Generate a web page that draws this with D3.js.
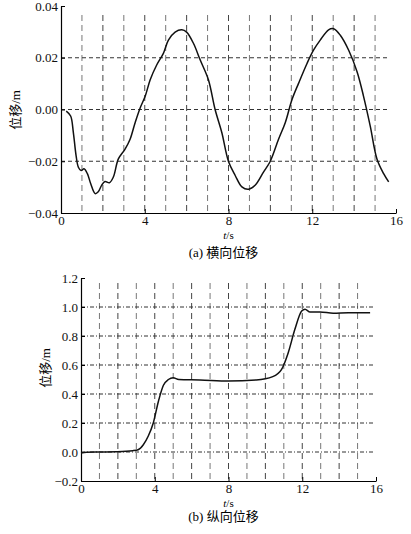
<!DOCTYPE html>
<html>
<head>
<meta charset="utf-8">
<script src="https://cdn.jsdelivr.net/npm/d3@7/dist/d3.min.js"></script>
<style>
  body { margin: 0; background: #fff; }
  text { font-family: "Liberation Serif", "Times New Roman", serif; }
  .cjk { font-family: "Liberation Serif", "Noto Sans CJK SC", serif; }
</style>
</head>
<body>
<div id="chart"></div>
<script>
// (a) lateral displacement, t in s, value in m
let timeA = [0.25, 0.46, 0.59, 0.72, 0.83, 0.96, 1.1, 1.26, 1.42, 1.63, 1.78, 1.94, 2.1, 2.31, 2.5, 2.74, 3.06, 3.3, 3.54, 3.78,
    4.02, 4.26, 4.57, 4.89, 5.13, 5.45, 5.77, 6.0, 6.33, 6.65, 7.04, 7.36, 7.68, 8.0, 8.32, 8.64, 8.96, 9.27, 9.67, 9.99,
    10.39, 10.71, 11.03, 11.35, 11.75, 12.06, 12.38, 12.78, 13.02, 13.34, 13.74, 14.14, 14.45, 14.77, 15.09, 15.41, 15.65]
let dispA = [-0.0006, -0.0025, -0.0089, -0.0178, -0.0223, -0.0236, -0.0229, -0.0248, -0.0287, -0.0325, -0.0318, -0.0293, -0.0278, -0.0283, -0.0261, -0.0191, -0.0153, -0.0115, -0.0051, 0.0006,
    0.0051, 0.0115, 0.0172, 0.0217, 0.0268, 0.0299, 0.0308, 0.0299, 0.0255, 0.0191, 0.0115, 0.0, -0.0089, -0.0201, -0.0255, -0.0299, -0.0308, -0.0293, -0.0242, -0.0201,
    -0.0115, -0.0051, 0.0038, 0.0102, 0.0178, 0.0229, 0.0268, 0.0308, 0.0312, 0.0287, 0.0229, 0.0146, 0.0051, -0.0064, -0.0191, -0.0248, -0.028]

// (b) longitudinal displacement
let timeB = [0.0, 0.3, 1.0, 1.9, 2.8, 3.1, 3.38, 3.65, 3.92, 4.2, 4.47, 4.74, 5.0, 5.3, 6.45, 8.0, 9.5, 10.4, 10.88, 11.24,
    11.6, 11.97, 12.15, 12.42, 12.96, 13.68, 14.5, 15.68]
let dispB = [-0.007, -0.002, 0.0, 0.002, 0.009, 0.016, 0.05, 0.11, 0.2, 0.35, 0.46, 0.5, 0.512, 0.5, 0.497, 0.49, 0.497, 0.52, 0.57, 0.685,
    0.846, 0.973, 0.985, 0.966, 0.966, 0.957, 0.96, 0.96]

let xTicks = [0, 4, 8, 12, 16]
let gridT = [1, 2, 3, 4, 5, 6, 7, 8, 9, 10, 11, 12, 13, 14, 15]
let yTicksA = [-0.04, -0.02, 0.0, 0.02, 0.04]
let yGridA = [-0.02, 0.0, 0.02]
let yTicksB = [-0.2, 0.0, 0.2, 0.4, 0.6, 0.8, 1.0, 1.2]
let yGridB = [0.0, 0.2, 0.4, 0.6, 0.8, 1.0]

let width = 411
let height = 534

let svg = d3.select("#chart")
    .append("svg")
    .attr("width", width)
    .attr("height", height)

function panel(opt) {
    let x = d3.scaleLinear().domain([0, 16]).range(opt.xr)
    let y = d3.scaleLinear().domain(opt.yd).range(opt.yr)
    let g = svg.append("g")

    // grid
    g.append("g").selectAll("line")
        .data(gridT)
        .enter()
        .append("line")
        .attr("x1", d => x(d)).attr("x2", d => x(d))
        .attr("y1", opt.vTop).attr("y2", opt.yr[0])
        .attr("stroke", d => d % 2 ? "#777" : "#444")
        .attr("stroke-width", 1)
        .attr("stroke-dasharray", "6,4")

    g.append("g").selectAll("line")
        .data(opt.yGrid)
        .enter()
        .append("line")
        .attr("x1", opt.xr[0]).attr("x2", opt.hEnd)
        .attr("y1", d => y(d)).attr("y2", d => y(d))
        .attr("stroke", "#333")
        .attr("stroke-width", 1)
        .attr("stroke-dasharray", opt.hDash)

    // axes
    let xa = g.append("g")
        .attr("transform", "translate(0," + opt.yr[0] + ")")
        .call(d3.axisBottom(x).tickValues(xTicks).tickSize(-4).tickPadding(3).tickSizeOuter(0))
    let ya = g.append("g")
        .attr("transform", "translate(" + opt.xr[0] + ",0)")
        .call(d3.axisLeft(y).tickValues(opt.yTicks).tickFormat(d3.format(opt.fmt)).tickSize(-4).tickPadding(3).tickSizeOuter(0))

    for (let a of [xa, ya]) {
        a.attr("font-family", null)
        a.select(".domain").attr("stroke", "#000").attr("stroke-width", 1.2)
        a.selectAll(".tick line").attr("stroke", "#000")
        a.selectAll("text").attr("font-size", 13).attr("fill", "#111")
    }

    // curve
    let line = d3.line()
        .x(d => x(d[0]))
        .y(d => y(d[1]))
        .curve(opt.curve)

    g.append("path")
        .datum(opt.t.map((t, i) => [t, opt.v[i]]))
        .attr("d", line)
        .attr("fill", "none")
        .attr("stroke", "#111")
        .attr("stroke-width", 1.5)

    // labels
    let cx = (opt.xr[0] + opt.xr[1]) / 2
    let tl = g.append("text")
        .attr("x", cx).attr("y", opt.tY)
        .attr("text-anchor", "middle")
        .attr("font-size", 11)
    tl.append("tspan").attr("font-style", "italic").text("t")
    tl.append("tspan").text("/s")

    g.append("text")
        .attr("class", "cjk")
        .attr("x", cx - 5).attr("y", opt.capY)
        .attr("text-anchor", "middle")
        .attr("font-size", 13)
        .text(opt.caption)

    g.append("text")
        .attr("class", "cjk")
        .attr("transform", "translate(" + opt.labX + "," + opt.labY + ") rotate(-90)")
        .attr("text-anchor", "middle")
        .attr("font-size", 13)
        .text("位移/m")
}

panel({
    t: timeA, v: dispA, yd: [-0.04, 0.04], yTicks: yTicksA, yGrid: yGridA, fmt: ".2f",
    xr: [61, 396], yr: [213, 6], vTop: 15, hEnd: 388, hDash: "4,3",
    curve: d3.curveCatmullRom, tY: 239, capY: 257, caption: "(a) 横向位移", labX: 20, labY: 110
})

panel({
    t: timeB, v: dispB, yd: [-0.2, 1.2], yTicks: yTicksB, yGrid: yGridB, fmt: ".1f",
    xr: [81, 376], yr: [481, 278], vTop: 283, hEnd: 373, hDash: "4,2,1,2",
    curve: d3.curveMonotoneX, tY: 507, capY: 521, caption: "(b) 纵向位移", labX: 50, labY: 368
})
</script>
</body>
</html>
